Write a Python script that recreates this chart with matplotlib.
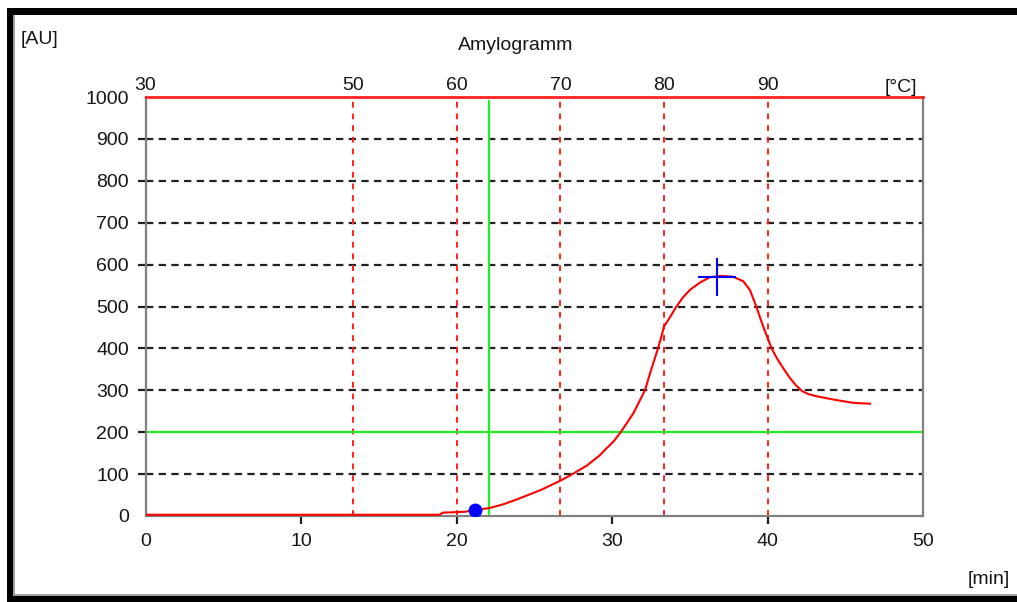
import matplotlib
matplotlib.use("Agg")
import matplotlib.pyplot as plt
from matplotlib.patches import Rectangle
import numpy as np

plt.rcParams['font.family'] = ['Liberation Sans', 'DejaVu Sans']

# ---- data ----
time_min = [0, 5, 10, 15, 18.9, 19.1, 20.5, 21.2, 22.1, 23.0, 23.9, 25.4, 26.7, 27.3,
            28.35, 29.2, 29.53, 30.06, 30.54, 31.35, 32.1, 32.42, 32.92, 33.17, 33.32,
            33.6, 34.09, 34.5, 35.0, 35.63, 36.27, 37.0, 37.78, 38.42, 38.85, 39.28,
            39.7, 40.24, 40.6, 41.0, 41.4, 41.8, 42.2, 42.6, 43.1, 44.2, 45.49, 46.56]
viscosity_au = [3, 3, 3, 3, 3, 8, 10, 14, 19, 28, 40, 62, 85, 97,
                120, 145, 158, 177, 200, 245, 300, 340, 398, 430, 452,
                468, 498, 520, 540, 557, 570, 573, 571, 560, 539, 497,
                452, 400, 375, 352, 330, 312, 298, 291, 286, 278, 270, 268]

start_point = (21.2, 14)          # blue dot (begin of gelatinization)
peak_point = (36.7, 571)          # blue cross (maximum)
threshold_time = 22.1             # green vertical line [min]
threshold_au = 200                # green horizontal line [AU]

x_ticks = [0, 10, 20, 30, 40, 50]
y_ticks = [0, 100, 200, 300, 400, 500, 600, 700, 800, 900, 1000]
temp_ticks = [30, 50, 60, 70, 80, 90]
temp_lines = [50, 60, 70, 80, 90]
start_temp = 30.0
heating_rate = 1.5   # °C per min

def min2temp(m):
    return start_temp + heating_rate * np.asarray(m, dtype=float)

def temp2min(t):
    return (np.asarray(t, dtype=float) - start_temp) / heating_rate

W, H = 1017, 602
fig = plt.figure(figsize=(W / 100, H / 100), dpi=100)
fig.patch.set_facecolor('white')

# screenshot frame
for (x0, y0, w, h, c) in [(7, 8, W - 7, 7, 'black'), (7, 8, 6, H - 8, 'black'),
                          (7, 596, W - 7, 6, 'black'),
                          (13, 15, 2, 580, '#a0a0a0'), (13, 594, W - 13, 2, '#a0a0a0')]:
    fig.patches.append(Rectangle((x0 / W, 1 - (y0 + h) / H), w / W, h / H,
                                 transform=fig.transFigure, facecolor=c,
                                 edgecolor='none', zorder=0))

left, right, top, bottom = 145.5, 923.5, 97, 516
ax = fig.add_axes([left / W, 1 - bottom / H, (right - left) / W, (bottom - top) / H])
ax.set_xlim(0, 50)
ax.set_ylim(0, 1000)

spine_c = '#808080'
for s in ['left', 'right', 'bottom']:
    ax.spines[s].set_color(spine_c)
    ax.spines[s].set_linewidth(1.6)
ax.spines['top'].set_visible(False)

# grid lines
for yv in y_ticks[1:-1]:
    if yv == threshold_au:
        continue
    ax.axhline(yv, color='#222222', lw=1.6, ls=(0, (3.3, 2.4)), zorder=1)
# red top line at 1000
ax.axhline(1000, color='#ff2020', lw=2.0, zorder=3, clip_on=False)
# temperature lines
for t in temp_lines:
    ax.axvline(temp2min(t), color='#ff2020', lw=1.4, ls=(0, (3, 3)), zorder=1)
# threshold lines
ax.axhline(threshold_au, color='#22ee22', lw=1.6, zorder=2)
ax.axvline(threshold_time, ymax=0.99, color='#22ee22', lw=1.6, zorder=2)

# curve
ax.plot(time_min, viscosity_au, color='#ff0000', lw=1.5, zorder=4)
ax.plot([start_point[0]], [start_point[1]], 'o', color='#0000ff', ms=9, zorder=5)
ax.plot([peak_point[0]], [peak_point[1]], marker='+', color='#0000ff', ms=27,
        mew=1.5, zorder=5, ls='none')

fs = 14
ax.set_xticks(x_ticks)
ax.set_yticks(y_ticks)
ax.tick_params(axis='both', labelsize=fs, labelcolor='#151515', color='#202020',
               length=6, width=1.6, direction='out', pad=6)
for tk in (ax.xaxis.get_major_ticks()[0], ax.xaxis.get_major_ticks()[-1],
           ax.yaxis.get_major_ticks()[0], ax.yaxis.get_major_ticks()[-1]):
    tk.tick1line.set_visible(False)

# temperature axis on top
sec = ax.secondary_xaxis('top', functions=(min2temp, temp2min))
sec.set_xticks(temp_ticks)
sec.tick_params(length=0, labelsize=fs, pad=2, colors='#151515')
sec.spines['top'].set_visible(False)

fig.text(917 / W, 1 - 92 / H, '[°C]', ha='right', va='baseline', fontsize=fs, color='#151515')
fig.text(516 / W, 1 - 45 / H, 'Amylogramm', ha='center', va='center', fontsize=fs, color='#151515')
fig.text(21 / W, 1 - 39 / H, '[AU]', ha='left', va='center', fontsize=fs, color='#151515')
fig.text(1010 / W, 1 - 579 / H, '[min]', ha='right', va='center', fontsize=fs, color='#151515')

fig.savefig('out.png', dpi=100, facecolor='white')
